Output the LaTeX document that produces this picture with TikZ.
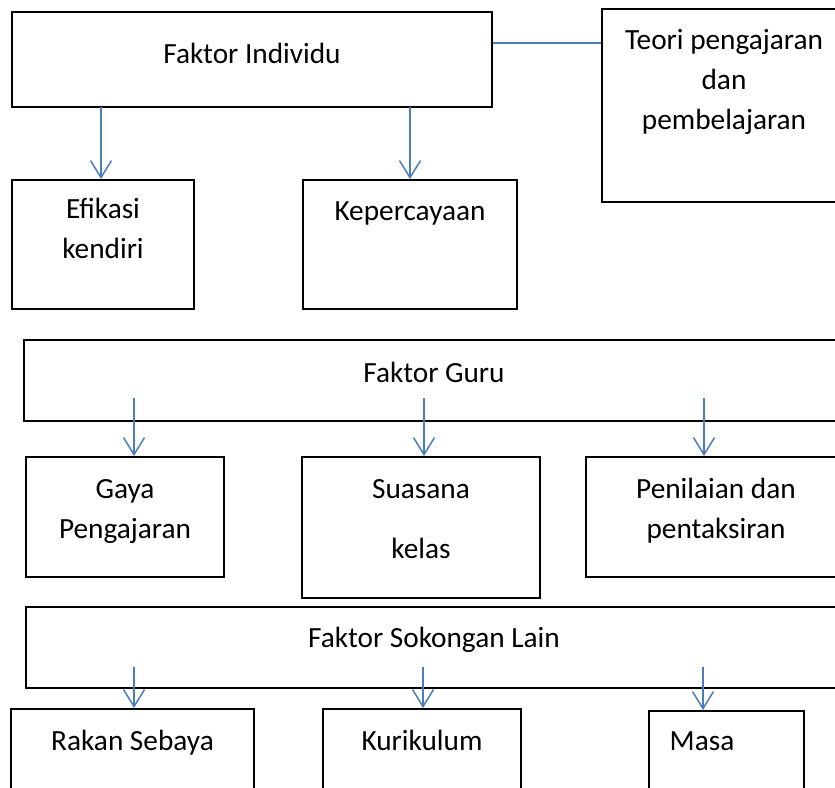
\documentclass[tikz,border=0pt]{standalone}
\usepackage{fontspec}
\setmainfont{Carlito}
\usetikzlibrary{arrows.meta}
\definecolor{linkblue}{RGB}{74,126,187}
% box text: width, height, top gap, lines
\newcommand{\cell}[4]{\parbox[c][#2][t]{#1}{\centering\vspace*{#3}\strut #4\par}}

\begin{document}
\begin{tikzpicture}[x=1pt,y=-1pt,
  every node/.style={font=\fontsize{29.3pt}{40pt}\selectfont},
  box/.style={draw,line width=2pt,inner sep=0pt},
  arr/.style={-{Straight Barb[length=17pt,width=21pt]},line width=1.5pt,draw=linkblue},
  link/.style={line width=1.5pt,draw=linkblue}]
\useasboundingbox (0,0) rectangle (835,787);
\clip (0,0) rectangle (835,787);
% top row
\node[box] (indiv) at (252,59.5) {\cell{480pt}{95pt}{23pt}{Faktor Individu}};
\node[box] (teori) at (724,105.5) {\cell{244pt}{193pt}{12pt}{Teori pengajaran\\dan\\pembelajaran}};
\node[box] (efikasi) at (103,244.5) {\cell{182pt}{129pt}{10pt}{Efikasi\\kendiri}};
\node[box] (keper) at (410,244.5) {\cell{214pt}{129pt}{12pt}{Kepercayaan}};
\coordinate (tie) at ([yshift=16.5pt]indiv.east);
\draw[link] (tie) -- (tie -| teori.west);
\coordinate (i1) at (101,107); \coordinate (i2) at (410,107);
\draw[arr] (i1) -- (i1 |- efikasi.north);
\draw[arr] (i2) -- (i2 |- keper.north);
% teacher factors
\node[box] (guru) at (434,380.5) {\cell{820pt}{81pt}{14pt}{Faktor Guru}};
\node[box] (gaya) at (125,517) {\cell{198pt}{120pt}{13pt}{Gaya\\Pengajaran}};
\node[box] (suasana) at (421,527.5) {\cell{238pt}{141pt}{13pt}{Suasana\\[20pt]kelas}};
\node[box] (nilai) at (716,517) {\cell{260pt}{120pt}{13pt}{Penilaian dan\\pentaksiran}};
\coordinate (g1) at (134,398); \coordinate (g2) at (424,398); \coordinate (g3) at (704,398);
\draw[arr] (g1) -- (g1 |- gaya.north);
\draw[arr] (g2) -- (g2 |- suasana.north);
\draw[arr] (g3) -- (g3 |- nilai.north);
% other support
\node[box] (sokong) at (434,647.5) {\cell{816pt}{81pt}{12pt}{Faktor Sokongan Lain}};
\node[box] (rakan) at (132.5,764.5) {\cell{243pt}{111pt}{13pt}{Rakan Sebaya}};
\node[box] (kurikulum) at (422,764.5) {\cell{198pt}{111pt}{13pt}{Kurikulum}};
\node[box] (masa) at (726.5,765.5) {\cell{155pt}{109pt}{11pt}{Masa\hspace*{49pt}}};
\coordinate (s1) at (134,667); \coordinate (s2) at (423,667); \coordinate (s3) at (703,667);
\draw[arr] (s1) -- (s1 |- rakan.north);
\draw[arr] (s2) -- (s2 |- kurikulum.north);
\draw[arr] (s3) -- (s3 |- masa.north);
\end{tikzpicture}
\end{document}
